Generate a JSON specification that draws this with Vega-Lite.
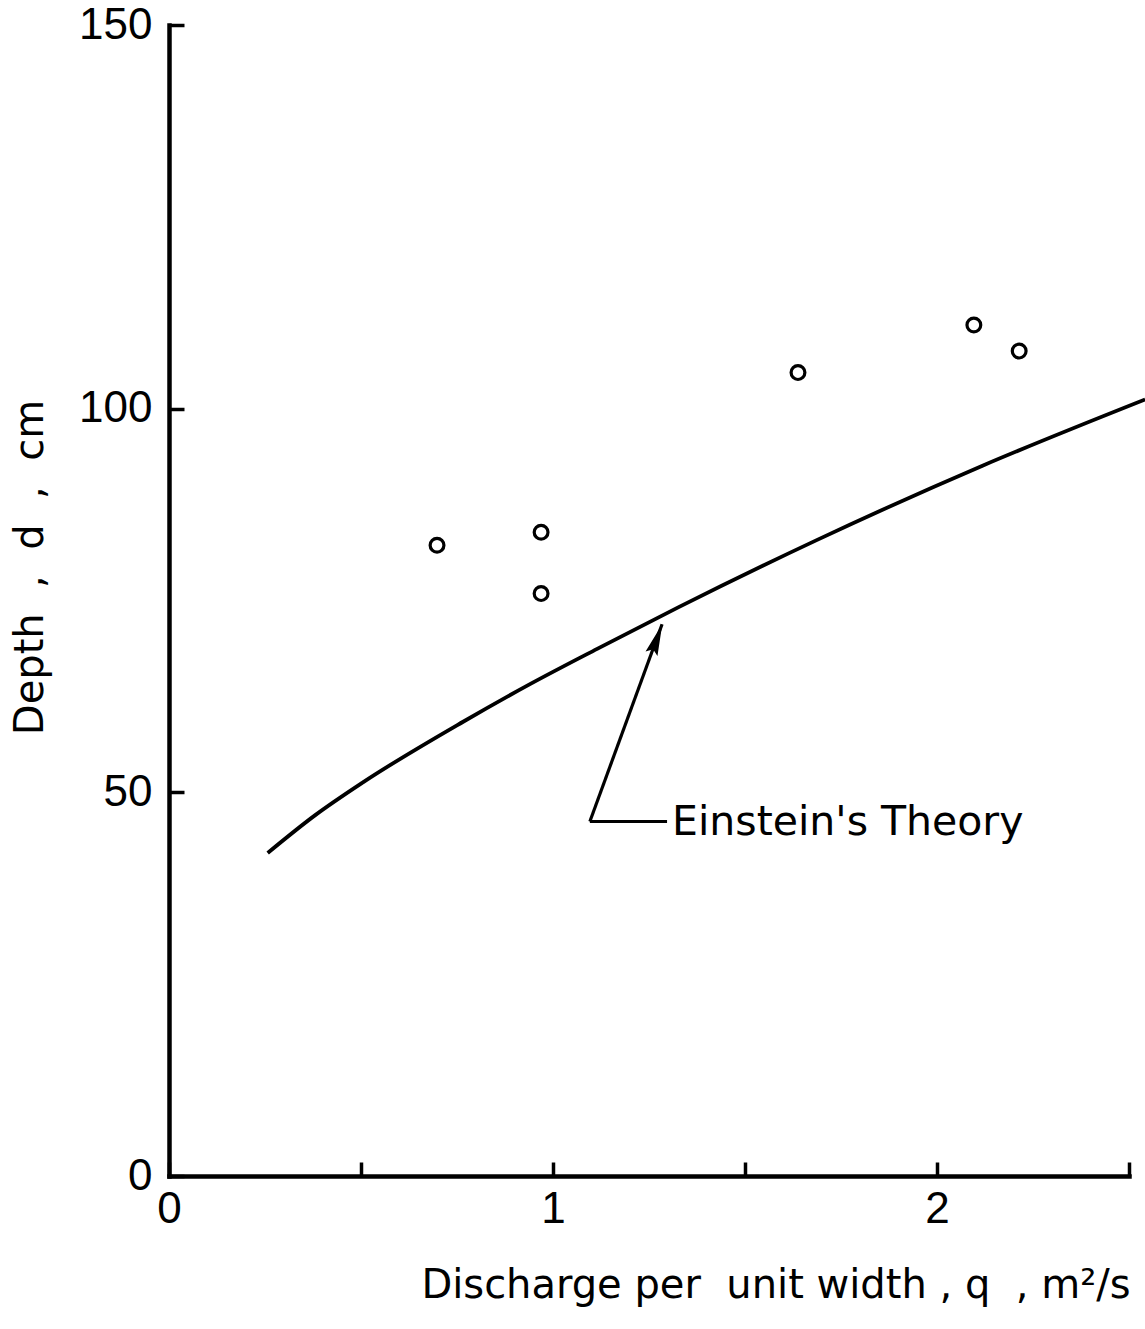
{
  "$schema": "https://vega.github.io/schema/vega-lite/v6.json",
  "width": 960,
  "height": 1151,
  "autosize": {"type": "none"},
  "padding": {"left": 169, "top": 25, "right": 16, "bottom": 153},
  "background": "white",
  "config": {
    "view": {"stroke": null},
    "axis": {
      "grid": false,
      "domainColor": "black",
      "domainWidth": 4.5,
      "domainCap": "square",
      "tickColor": "black",
      "tickWidth": 3.5,
      "labelColor": "black",
      "titleColor": "black",
      "labelFont": "Liberation Sans",
      "labelFontSize": 44,
      "labelFontWeight": "normal",
      "titleFont": "DejaVu Sans",
      "titleFontSize": 40,
      "titleFontWeight": "normal",
      "labelFlush": false,
      "labelOverlap": false
    }
  },
  "datasets": {
    "curve": [
      {"q": 0.257, "d": 42.1},
      {"q": 0.38, "d": 47.0},
      {"q": 0.505, "d": 51.3},
      {"q": 0.766, "d": 59.2},
      {"q": 0.94, "d": 64.1},
      {"q": 1.115, "d": 68.7},
      {"q": 1.326, "d": 74.1},
      {"q": 1.688, "d": 82.9},
      {"q": 2.12, "d": 92.6},
      {"q": 2.542, "d": 101.2}
    ],
    "obs": [
      {"q": 0.698, "d": 82.2},
      {"q": 0.969, "d": 83.9},
      {"q": 0.969, "d": 75.9},
      {"q": 1.638, "d": 104.7},
      {"q": 2.096, "d": 110.9},
      {"q": 2.214, "d": 107.5}
    ],
    "leader": [
      {"seg": "a", "ord": 1, "q": 1.096, "d": 46.2},
      {"seg": "a", "ord": 2, "q": 1.284, "d": 71.9},
      {"seg": "b", "ord": 1, "q": 1.096, "d": 46.2},
      {"seg": "b", "ord": 2, "q": 1.297, "d": 46.2}
    ],
    "head": [{"q": 1.2706, "d": 70.0}],
    "label": [{"q": 1.31, "d": 44.4, "text": "Einstein's Theory"}]
  },
  "layer": [
    {
      "data": {"name": "curve"},
      "mark": {"type": "line", "color": "black", "strokeWidth": 3.8, "interpolate": "monotone"},
      "encoding": {
        "x": {
          "field": "q",
          "type": "quantitative",
          "scale": {"domain": [0, 2.5], "nice": false, "zero": false},
          "axis": {
            "values": [0, 0.5, 1, 1.5, 2, 2.5],
            "labelExpr": "datum.value % 1 == 0 ? '' + datum.value : ''",
            "tickSize": -14,
            "labelPadding": 25,
            "title": "Discharge per\u00a0 unit width , q \u00a0, m²/s",
            "titleX": 961,
            "titleY": 109,
            "titleAlign": "right",
            "titleBaseline": "middle",
            "titleAnchor": null
          }
        },
        "y": {
          "field": "d",
          "type": "quantitative",
          "scale": {"domain": [0, 150], "nice": false, "zero": false},
          "axis": {
            "values": [0, 50, 100, 150],
            "tickSize": -15,
            "labelPadding": 32,
            "title": "Depth\u00a0 ,\u00a0 d\u00a0 ,\u00a0 cm",
            "titleAngle": -90,
            "titleX": -139,
            "titleY": 542,
            "titleAlign": "center",
            "titleBaseline": "middle"
          }
        }
      }
    },
    {
      "data": {"name": "obs"},
      "mark": {"type": "point", "shape": "circle", "filled": false, "color": "black", "strokeWidth": 3.2, "size": 190, "opacity": 1},
      "encoding": {
        "x": {"field": "q", "type": "quantitative"},
        "y": {"field": "d", "type": "quantitative"}
      }
    },
    {
      "data": {"name": "leader"},
      "mark": {"type": "line", "color": "black", "strokeWidth": 3.2},
      "encoding": {
        "x": {"field": "q", "type": "quantitative"},
        "y": {"field": "d", "type": "quantitative"},
        "detail": {"field": "seg"},
        "order": {"field": "ord"}
      }
    },
    {
      "data": {"name": "head"},
      "mark": {"type": "point", "shape": "M0,-1L0.4,1L0,0.7L-0.4,1Z", "filled": true, "color": "black", "size": 1000, "angle": 20, "opacity": 1},
      "encoding": {
        "x": {"field": "q", "type": "quantitative"},
        "y": {"field": "d", "type": "quantitative"}
      }
    },
    {
      "data": {"name": "label"},
      "mark": {"type": "text", "align": "left", "baseline": "alphabetic", "font": "DejaVu Sans", "fontSize": 41, "color": "black"},
      "encoding": {
        "x": {"field": "q", "type": "quantitative"},
        "y": {"field": "d", "type": "quantitative"},
        "text": {"field": "text"}
      }
    }
  ]
}
